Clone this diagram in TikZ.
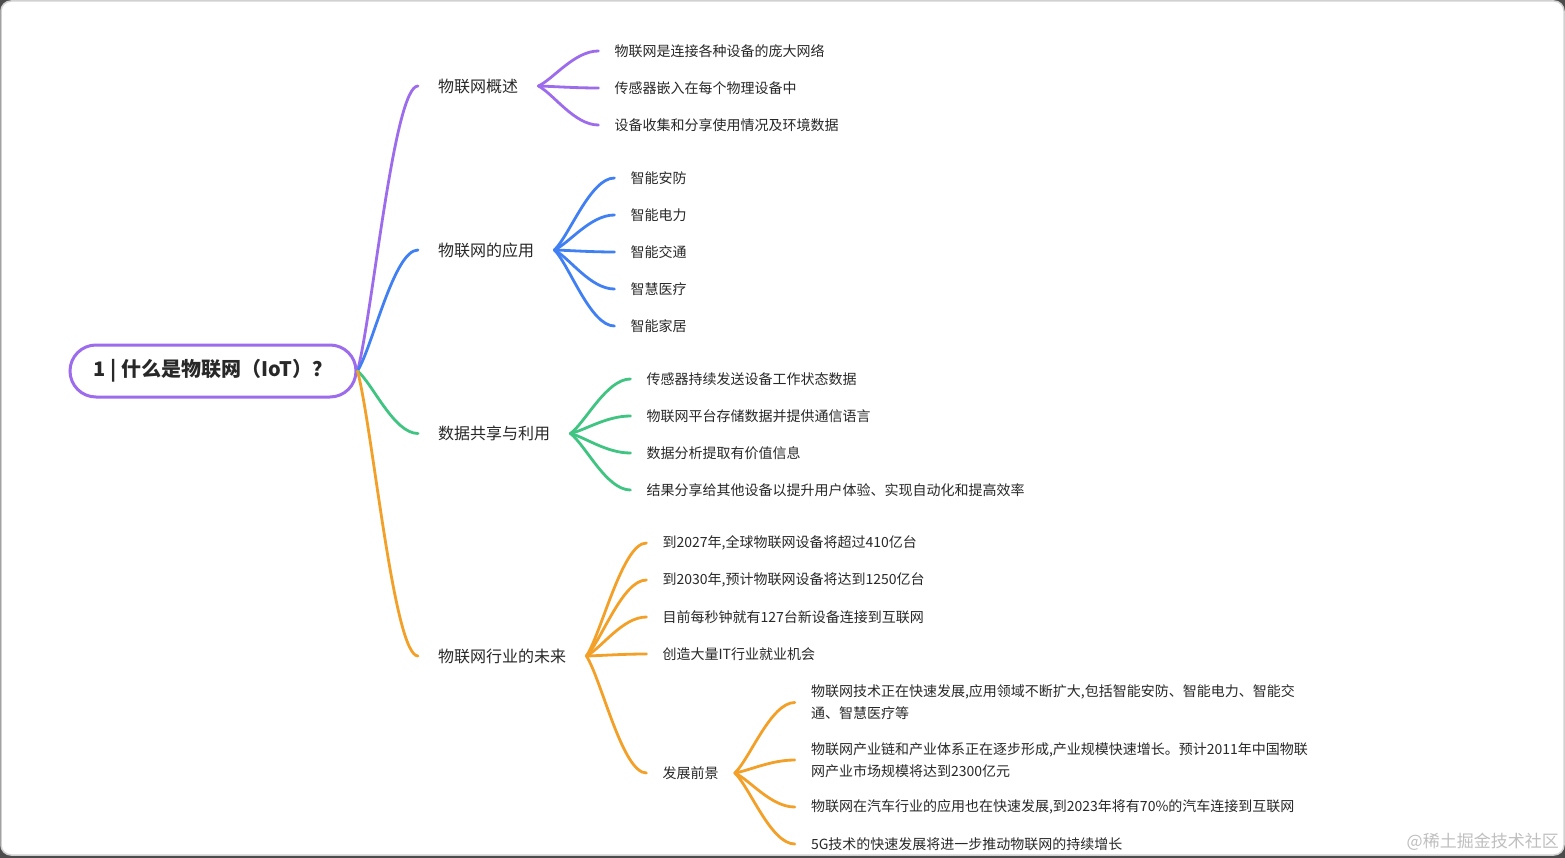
\documentclass[tikz,border=0pt]{standalone}
\usepackage{fontspec}
\newfontfamily\cjk{Noto Sans CJK SC}
\usetikzlibrary{calc}
\definecolor{cpurple}{RGB}{157,108,236}
\definecolor{cblue}{RGB}{64,128,242}
\definecolor{cgreen}{RGB}{64,196,130}
\definecolor{corange}{RGB}{242,160,40}
\definecolor{txt}{RGB}{40,40,40}
\newcommand\mlink[3]{\draw[lk,#1] let \p1=(#2), \p2=(#3) in (\p1) .. controls ({\x1+0.25*(\x2-\x1)},{\y1+0.2*(\y2-\y1)}) and ({\x1+0.6*(\x2-\x1)},\y2) .. (\p2);}
\begin{document}
\begin{tikzpicture}[x=1pt,y=-1pt,
  rootbox/.style={draw=cpurple,line width=3pt,rounded corners=26pt,minimum width=286pt,minimum height=52pt,fill=white,font=\cjk\bfseries\fontsize{20}{24}\selectfont,text=txt,text height=15pt,text depth=3.8pt},
  lone/.style={anchor=west,inner xsep=20pt,inner ysep=2pt,font=\cjk\fontsize{16}{20}\selectfont,text=txt},
  ltwo/.style={anchor=west,inner xsep=16pt,inner ysep=2pt,font=\cjk\fontsize{14}{22}\selectfont,text=txt,align=left},
  lk/.style={line width=2.8pt,line cap=round}]
\useasboundingbox (0,0) rectangle (1565,858);
\fill[black!70] (0,0) rectangle (1565,858);
\draw[fill=white,draw=black!18,line width=1.5pt,rounded corners=10pt] (1,1) rectangle (1564,855);

% root
\node[rootbox] (r) at (213,371) {1 | 什么是物联网（IoT）？};

% level 1
\node[lone] (a) at (418,86) {物联网概述};
\node[lone] (b) at (418,250) {物联网的应用};
\node[lone] (c) at (418,433.5) {数据共享与利用};
\node[lone] (d) at (418,656) {物联网行业的未来};

\mlink{cpurple}{r.east}{a.west}
\mlink{cblue}{r.east}{b.west}
\mlink{cgreen}{r.east}{c.west}
\mlink{corange}{r.east}{d.west}

\coordinate (ax) at ($(a.east)+(60,0)$);
\coordinate (bx) at ($(b.east)+(60,0)$);
\coordinate (cx) at ($(c.east)+(60,0)$);
\coordinate (dx) at ($(d.east)+(60,0)$);

% purple children
\node[ltwo] (a1) at (ax |- 0,51) {物联网是连接各种设备的庞大网络};
\node[ltwo] (a2) at (ax |- 0,88) {传感器嵌入在每个物理设备中};
\node[ltwo] (a3) at (ax |- 0,125) {设备收集和分享使用情况及环境数据};
\foreach \k in {a1,a2,a3}{\mlink{cpurple}{a.east}{\k.west}}

% blue children
\node[ltwo] (b1) at (bx |- 0,178) {智能安防};
\node[ltwo] (b2) at (bx |- 0,215) {智能电力};
\node[ltwo] (b3) at (bx |- 0,252) {智能交通};
\node[ltwo] (b4) at (bx |- 0,289) {智慧医疗};
\node[ltwo] (b5) at (bx |- 0,326) {智能家居};
\foreach \k in {b1,b2,b3,b4,b5}{\mlink{cblue}{b.east}{\k.west}}

% green children
\node[ltwo] (c1) at (cx |- 0,379) {传感器持续发送设备工作状态数据};
\node[ltwo] (c2) at (cx |- 0,416) {物联网平台存储数据并提供通信语言};
\node[ltwo] (c3) at (cx |- 0,453) {数据分析提取有价值信息};
\node[ltwo] (c4) at (cx |- 0,490) {结果分享给其他设备以提升用户体验、实现自动化和提高效率};
\foreach \k in {c1,c2,c3,c4}{\mlink{cgreen}{c.east}{\k.west}}

% orange children
\node[ltwo] (d1) at (dx |- 0,543) {到2027年,全球物联网设备将超过410亿台};
\node[ltwo] (d2) at (dx |- 0,580) {到2030年,预计物联网设备将达到1250亿台};
\node[ltwo] (d3) at (dx |- 0,617) {目前每秒钟就有127台新设备连接到互联网};
\node[ltwo] (d4) at (dx |- 0,654) {创造大量IT行业就业机会};
\node[ltwo] (d5) at (dx |- 0,773) {发展前景};
\foreach \k in {d1,d2,d3,d4,d5}{\mlink{corange}{d.east}{\k.west}}

\coordinate (ex) at ($(d5.east)+(60,0)$);
\node[ltwo] (e1) at (ex |- 0,702.5) {物联网技术正在快速发展,应用领域不断扩大,包括智能安防、智能电力、智能交\\通、智慧医疗等};
\node[ltwo] (e2) at (ex |- 0,760) {物联网产业链和产业体系正在逐步形成,产业规模快速增长。预计2011年中国物联\\网产业市场规模将达到2300亿元};
\node[ltwo] (e3) at (ex |- 0,807) {物联网在汽车行业的应用也在快速发展,到2023年将有70\%的汽车连接到互联网};
\node[ltwo] (e4) at (ex |- 0,844) {5G技术的快速发展将进一步推动物联网的持续增长};
\foreach \k in {e1,e2,e3,e4}{\mlink{corange}{d5.east}{\k.west}}

% watermark
\node[anchor=east,inner sep=0pt,text=black!25,font=\cjk\fontsize{17}{20}\selectfont] (wm) at (1559,842) {@稀土掘金技术社区};
\end{tikzpicture}
\end{document}
